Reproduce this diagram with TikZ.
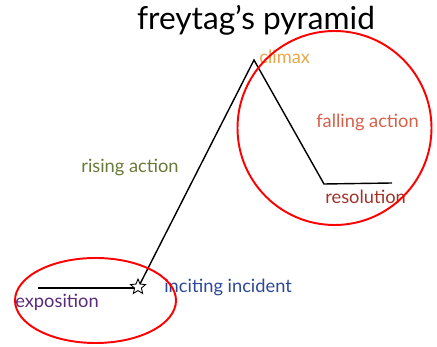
\documentclass[tikz,border=0pt]{standalone}
\usepackage{fontspec}
\setmainfont{Lato}
\usepackage{xcolor}
\usepackage{tikz}
\usetikzlibrary{shapes,positioning,calc}
\definecolor{climaxcol}{RGB}{232,168,74}
\definecolor{fallcol}{RGB}{214,96,74}
\definecolor{rescol}{RGB}{160,52,42}
\definecolor{risecol}{RGB}{104,122,58}
\definecolor{inccol}{RGB}{44,72,152}
\definecolor{expocol}{RGB}{92,42,122}

\begin{document}
\begin{tikzpicture}[
    x=0.02cm, y=-0.02cm,
    plot/.style={draw=black, line width=0.8pt},
    ring/.style={draw=red, line width=1.1pt},
    tag/.style={font=\fontsize{10.4}{12}\selectfont, inner sep=0pt},
    starmark/.style={draw, star, star points=5, star point ratio=2.2, minimum size=9pt, inner sep=0pt, fill=white, line width=0.5pt}
]
\useasboundingbox (0,0) rectangle (437,347);

% Title
\node[font=\fontsize{18}{21}\selectfont] (title) at (256,20) {freytag's pyramid};

% Pyramid points
\coordinate (expo) at (38,288);
\coordinate (peak) at (254,60);
\coordinate (low) at (324,184);
\coordinate (resend) at (392,183);

% Pyramid
\draw[plot] (expo) -- (136,288);
\draw[plot] (140,284) -- (peak) -- (low) -- (resend);
\node[starmark] (incite) at (138,287) {};

% Labels
\node[tag, text=climaxcol, anchor=west] (climax) at (259,57) {climax};
\node[tag, text=fallcol, anchor=west] (falling) at (316,122) {falling action};
\node[tag, text=rescol, anchor=west] (resolution) at (325,197) {resolution};
\node[tag, text=risecol, anchor=west] (rising) at (81,167) {rising action};
\node[tag, text=inccol, anchor=west] (inciting) at (164,287) {inciting incident};
\node[tag, text=expocol, anchor=west] (exposition) at (15,302) {exposition};

% Circles
\draw[ring] (334.5,128) circle [radius=97];
\draw[ring] (95.5,300.5) ellipse [x radius=80.5, y radius=42.5];

\end{tikzpicture}
\end{document}
